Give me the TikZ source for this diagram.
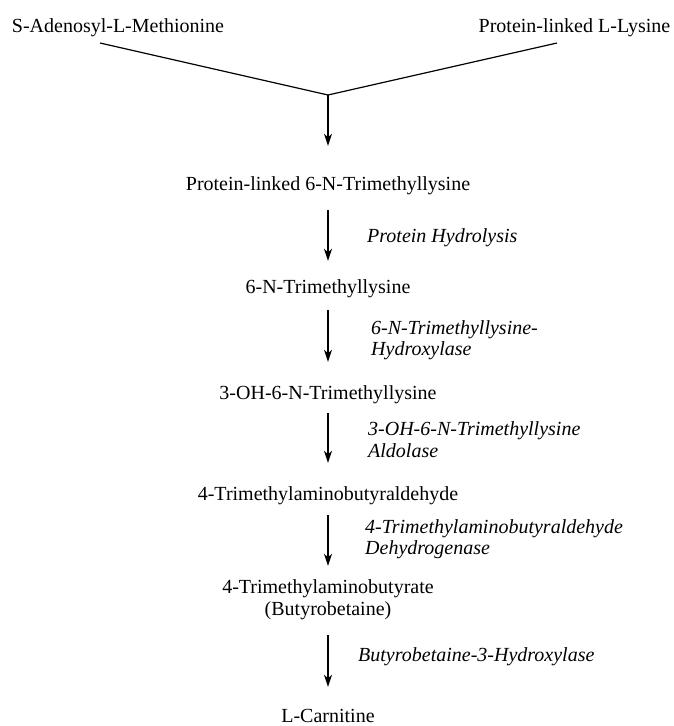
\documentclass[tikz,border=0pt]{standalone}
\usepackage{fontspec}
\setmainfont{Liberation Serif}[ItalicFont=Liberation Serif Italic]
\usetikzlibrary{arrows.meta,calc}
\tikzset{
  chem/.style={inner sep=0pt, text height=14pt, text depth=5pt, font=\fontsize{20}{22}\selectfont, anchor=base},
  enz/.style={inner sep=0pt, font=\fontsize{20}{22}\selectfont\itshape, anchor=base west},
  arr/.style={line width=1.5pt, -{Stealth[length=12pt,width=8pt,inset=3.5pt]}},
  joinline/.style={line width=1.2pt}
}
\begin{document}
\begin{tikzpicture}[x=1pt,y=-1pt]
\useasboundingbox (0,0) rectangle (673,726);
% substances
\node[chem] (sam)  at (118,32)  {S-Adenosyl-L-Methionine};
\node[chem] (lys)  at (574.5,32) {Protein-linked L-Lysine};
\coordinate (j) at (328,95);
\node[chem] (p6)   at (328,190) {Protein-linked 6-N-Trimethyllysine};
\node[chem] (tml)  at (328,293) {6-N-Trimethyllysine};
\node[chem] (oh)   at (328,399) {3-OH-6-N-Trimethyllysine};
\node[chem] (tmab) at (328,500) {4-Trimethylaminobutyraldehyde};
\node[chem] (bb1)  at (328,593) {4-Trimethylaminobutyrate};
\node[chem] (bb2)  at (328,615) {(Butyrobetaine)};
\node[chem] (carn) at (328,722) {L-Carnitine};
% enzymes
\node[enz] (e2)  at (367,242) {Protein Hydrolysis};
\node[enz] (e3a) at (371,334) {6-N-Trimethyllysine-};
\node[enz] (e3b) at (371,355) {Hydroxylase};
\node[enz] (e4a) at (368,435) {3-OH-6-N-Trimethyllysine};
\node[enz] (e4b) at (368,457) {Aldolase};
\node[enz] (e5a) at (365,533) {4-Trimethylaminobutyraldehyde};
\node[enz] (e5b) at (365,554) {Dehydrogenase};
\node[enz] (e6)  at (358,661) {Butyrobetaine-3-Hydroxylase};
% connectors
\draw[joinline] ($(sam.base)+(-18,11)$) -- (j);
\draw[joinline] ($(lys.base)+(-17.5,11)$) -- (j);
\draw[arr, shorten >=30pt] (j) -- (p6.north);
\draw[arr, shorten <=15pt, shorten >=18pt] (p6.south) -- (tml.north);
\draw[arr, shorten <=12pt, shorten >=23pt] (tml.south) -- (oh.north);
\draw[arr, shorten <=9pt, shorten >=23pt] (oh.south) -- (tmab.north);
\draw[arr, shorten <=10pt, shorten >=13pt] (tmab.south) -- (bb1.north);
\draw[arr, shorten <=15pt, shorten >=21pt] (bb2.south) -- (carn.north);
\end{tikzpicture}
\end{document}
